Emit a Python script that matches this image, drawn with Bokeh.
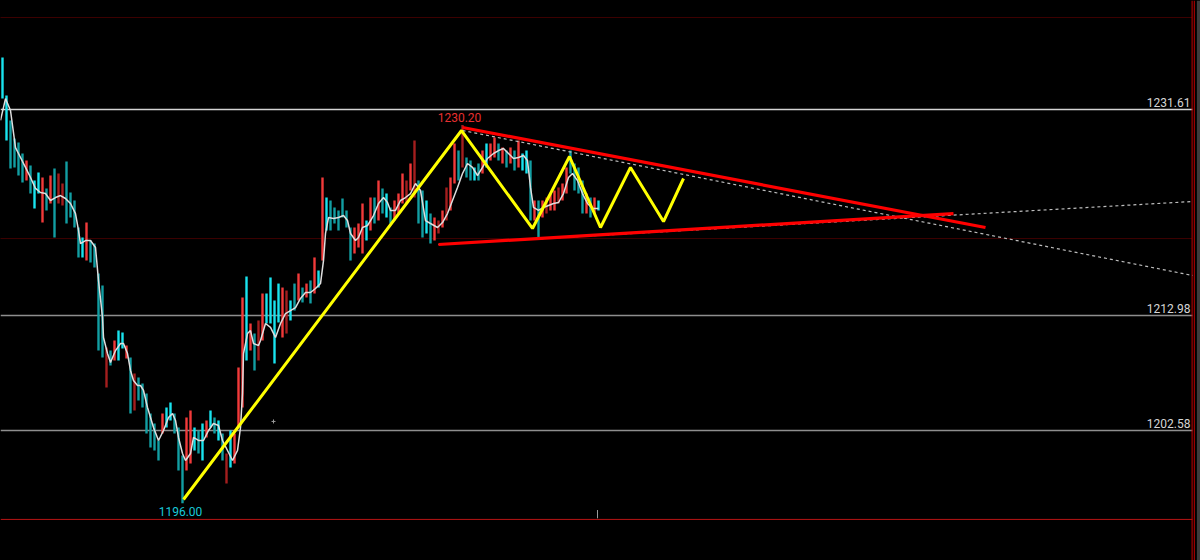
from bokeh.plotting import figure
from bokeh.models import Range1d, ColumnDataSource
from bokeh.embed import file_html
from bokeh.resources import INLINE
from bokeh.core.properties import value

# ---------------- data ----------------
highs = [
    1236.31, 1232.88, 1230.62, 1228.99, 1228.63, 1227.63, 1227.00, 1226.55, 1225.19, 1225.91,
    1225.46, 1224.47, 1225.64, 1226.27, 1225.82, 1224.92, 1226.91, 1224.10, 1223.38, 1220.94,
    1220.03, 1221.39, 1219.76, 1219.49, 1216.78, 1215.69, 1210.09, 1209.81, 1210.72, 1211.62,
    1211.44, 1210.27, 1209.18, 1207.74, 1207.37, 1206.83, 1205.93, 1204.12, 1203.21, 1201.68,
    1204.12, 1204.66, 1205.11, 1204.12, 1202.85, 1200.32, 1203.76, 1204.39, 1202.85, 1202.58,
    1203.21, 1203.49, 1204.39, 1203.76, 1203.49, 1202.31, 1200.50, 1202.58, 1202.31, 1208.28,
    1214.61, 1216.51, 1212.26, 1211.35, 1212.53, 1214.97, 1214.97, 1216.42, 1214.34, 1215.87,
    1215.51, 1215.24, 1214.34, 1215.87, 1216.78, 1215.51, 1215.87, 1216.15, 1218.23, 1217.05,
    1225.46, 1223.65, 1223.38, 1222.75, 1222.48, 1223.56, 1222.48, 1220.94, 1220.94, 1221.30,
    1223.11, 1221.57, 1223.65, 1223.65, 1225.19, 1224.47, 1224.01, 1222.75, 1223.38, 1224.01,
    1225.82, 1225.19, 1226.73, 1228.81, 1225.19, 1224.28, 1223.38, 1222.20, 1221.84, 1221.57,
    1222.48, 1224.56, 1225.46, 1228.54, 1227.90, 1230.20, 1227.27, 1227.00, 1226.37, 1226.73,
    1227.90, 1228.54, 1228.54, 1229.08, 1228.54, 1228.17, 1227.90, 1228.17, 1227.90, 1228.81,
    1227.63, 1227.90, 1227.00, 1223.38, 1223.38, 1223.38, 1223.65, 1224.01, 1224.28, 1224.56,
    1224.92, 1226.37, 1227.90, 1226.73, 1226.37, 1225.19, 1224.01, 1223.65, 1223.65, 1223.38,
]
lows = [
    1232.60, 1228.81, 1226.27, 1226.37, 1225.64, 1225.01, 1225.19, 1224.01, 1222.66, 1224.01,
    1221.39, 1222.48, 1223.11, 1220.03, 1223.11, 1222.93, 1221.30, 1221.84, 1220.94, 1218.23,
    1218.23, 1217.95, 1217.77, 1217.32, 1209.81, 1209.18, 1206.47, 1208.46, 1208.91, 1208.91,
    1210.00, 1209.09, 1204.12, 1204.39, 1205.29, 1204.66, 1202.31, 1201.04, 1200.77, 1199.87,
    1202.31, 1202.85, 1203.49, 1202.31, 1198.96, 1196.00, 1198.96, 1199.60, 1200.77, 1200.50,
    1199.87, 1201.95, 1202.85, 1202.31, 1201.68, 1199.87, 1197.79, 1199.24, 1199.60, 1202.85,
    1204.66, 1208.91, 1209.81, 1208.01, 1208.91, 1210.72, 1212.26, 1212.26, 1208.64, 1212.35,
    1210.99, 1211.35, 1212.53, 1213.43, 1214.34, 1214.16, 1214.61, 1214.07, 1214.97, 1215.51,
    1217.95, 1220.67, 1220.67, 1221.30, 1220.67, 1221.84, 1220.94, 1217.95, 1218.59, 1219.13,
    1218.59, 1219.76, 1220.67, 1221.30, 1221.57, 1222.20, 1221.84, 1221.30, 1221.57, 1222.20,
    1223.11, 1223.11, 1224.28, 1223.65, 1221.30, 1220.03, 1220.40, 1219.49, 1219.76, 1220.40,
    1220.94, 1221.57, 1222.48, 1224.92, 1225.19, 1226.37, 1225.46, 1225.19, 1225.19, 1225.19,
    1225.82, 1226.37, 1227.00, 1227.27, 1227.00, 1226.73, 1226.37, 1226.73, 1226.09, 1226.37,
    1226.09, 1225.82, 1221.57, 1221.57, 1220.03, 1221.84, 1222.20, 1222.48, 1222.48, 1223.11,
    1223.38, 1224.01, 1225.82, 1224.28, 1224.01, 1222.20, 1222.20, 1221.84, 1222.20, 1222.48,
]
# bar colour kind: C bright up, T dark up, R bright down, D dark down
bar_kinds = list(
    "CCTTTTRTCC" "RTRTDDTTTT" "CRTTTTDTRC" "CRTDTTTTTT" "RCCTTTRRCT"
    "CRCTCTDCRR" "RCRTDRCCCC" "RDCTRTRTRC" "RCTTTTTTRR" "RCRTRTCTRR"
    "RDRDTTCTRD" "RDRRTDTTCT" "RCRRTRTRTR" "CCTRTRDRRD" "RRTTTTRTRC"
)

ma_x = [-0.5, 0.75, 2.0, 3.25, 4.5, 5.75, 7.0, 8.25, 9.5, 10.75, 12.0, 13.25, 14.5, 15.75, 17.0,
        18.25, 19.0, 19.5, 20.75, 22.0, 23.25, 24.0, 25.0, 25.25, 26.25, 27.0, 28.25, 29.5, 30.25,
        31.25, 32.0, 32.75, 33.75, 34.5, 35.25, 36.25, 37.75, 39.0, 40.25, 41.5, 42.5, 43.25, 44.0,
        45.0, 45.75, 47.0, 47.75, 49.0, 50.25, 51.5, 52.75, 54.0, 55.0, 56.25, 57.5, 58.75, 59.5,
        60.0, 60.25, 61.25, 62.0, 62.75, 64.0, 64.5, 65.75, 67.0, 68.25, 69.5, 70.75, 72.0, 73.25,
        74.5, 75.75, 77.0, 78.25, 79.5, 80.25, 80.75, 81.5, 82.75, 84.0, 85.25, 86.25, 87.0, 88.25,
        89.0, 90.0, 91.25, 92.0, 92.75, 94.0, 95.25, 96.25, 97.0, 98.25, 99.5, 100.75, 102.0,
        103.25, 104.5, 105.75, 107.0, 108.75, 110.0, 111.25, 112.5, 113.75, 115.0, 116.25, 117.5,
        118.75, 120.0, 121.25, 122.75, 124.0, 125.25, 126.5, 127.75, 129.0, 130.25, 131.25, 132.0,
        132.75, 134.0, 135.25, 136.5, 137.75, 139.0, 140.25, 141.5, 142.5, 143.75, 145.0, 146.25,
        147.5, 149.0]
ma_price = [1230.62, 1232.60, 1231.52, 1228.17, 1227.27, 1226.37, 1225.46, 1224.47, 1224.10, 1224.01,
            1223.38, 1223.65, 1223.83, 1223.56, 1223.11, 1222.20, 1220.67, 1219.49, 1219.76, 1219.76,
            1219.13, 1216.15, 1212.80, 1210.99, 1209.54, 1208.73, 1209.81, 1210.45, 1210.45, 1209.54,
            1208.01, 1207.10, 1206.65, 1206.65, 1206.20, 1204.66, 1202.85, 1201.68, 1202.58, 1203.76,
            1204.12, 1203.49, 1201.95, 1200.50, 1199.87, 1200.50, 1201.95, 1201.68, 1201.68, 1202.58,
            1203.21, 1203.03, 1201.68, 1200.77, 1199.87, 1200.77, 1202.85, 1205.93, 1209.54, 1211.35,
            1211.62, 1210.45, 1210.27, 1210.72, 1212.26, 1211.90, 1210.99, 1212.26, 1213.16, 1213.43,
            1213.70, 1214.52, 1215.06, 1215.06, 1215.42, 1215.87, 1217.95, 1220.40, 1221.84, 1221.75,
            1221.84, 1222.02, 1221.57, 1220.40, 1219.76, 1220.03, 1220.94, 1221.12, 1221.57, 1222.02,
            1223.11, 1223.65, 1223.20, 1222.48, 1222.48, 1223.38, 1223.65, 1224.01, 1224.92, 1224.28,
            1221.57, 1221.30, 1220.94, 1221.39, 1222.20, 1223.38, 1224.56, 1225.82, 1226.73, 1226.37,
            1225.64, 1226.37, 1227.18, 1227.63, 1227.90, 1228.08, 1227.63, 1227.18, 1227.27, 1227.45,
            1227.00, 1224.56, 1222.75, 1222.48, 1222.75, 1222.93, 1223.11, 1223.20, 1224.01, 1225.46,
            1225.82, 1225.19, 1224.01, 1223.11, 1222.66, 1222.66]

zigzag_x = [45.25, 114.75, 132.5, 141.75, 149.5, 157.0, 165.25, 170.25]
zigzag_price = [1196.34, 1229.71, 1220.85, 1227.36, 1220.94, 1226.37, 1221.48, 1225.37]

upper_red_x = [115.0, 245.75]
upper_red_price = [1229.98, 1220.94]
lower_red_x = [109.0, 237.75]
lower_red_price = [1219.40, 1222.20]
dash_down_x = [115.0, 297.5]
dash_down_price = [1229.71, 1216.60]
dash_up_x = [109.0, 297.5]
dash_up_price = [1219.40, 1223.29]

levels = [1231.61, 1212.98, 1202.58]
level_labels = ["1231.61", "1212.98", "1202.58"]
dotted_levels = [1239.93, 1219.94]
bottom_level = 1194.54
high_label = "1230.20"
high_price = 1230.20
high_x = 114.25
low_label = "1196.00"
low_price = 1196.00
low_x = 44.5

# ---------------- figure ----------------
W, H = 1200, 560
Y0, Y1 = 1190.825, 1241.467
X0, X1 = -0.5, 299.5
PX = (Y1 - Y0) / H  # price units per pixel

p = figure(width=W, height=H, output_backend="svg", toolbar_location=None,
           x_range=Range1d(X0, X1), y_range=Range1d(Y0, Y1),
           x_axis_location=None, y_axis_location=None,
           background_fill_color="black", border_fill_color="black",
           min_border=0, outline_line_color=None)
p.grid.grid_line_color = None

XR = 297.5  # right edge of the chart area

# horizontal dotted dark-red lines
for lv in dotted_levels:
    p.line([X0, XR], [lv, lv], line_color="#7a0000", line_width=1, line_dash="1 1")

# price level lines
level_colors = ["#d4d4d4", "#8e8e8e", "#8e8e8e"]
for lv, c in zip(levels, level_colors):
    p.line([X0, XR], [lv, lv], line_color=c, line_width=1.3)

# bottom red line and right red borders
p.line([X0, XR], [bottom_level, bottom_level], line_color="#b81414", line_width=1)
for xv in (297.4, 297.95):
    p.line([xv, xv], [Y0, Y1], line_color="#c00000", line_width=1)
p.quad(left=[298.6], right=[X1], bottom=[Y0], top=[Y1], fill_color="#3c3c3c", line_color=None)

# bars
kind_color = {"C": "#19e3ee", "T": "#129ea3", "R": "#f23a3a", "D": "#a41e1e"}
idx = list(range(len(highs)))
src = ColumnDataSource(dict(x=idx, hi=highs, lo=lows, c=[kind_color[k] for k in bar_kinds]))
p.segment(x0="x", y0="lo", x1="x", y1="hi", line_color="c", line_width=2.4, source=src)

# moving average
p.line(ma_x, ma_price, line_color="#dedede", line_width=1.5)

# dashed extension lines
p.line(dash_down_x, dash_down_price, line_color="#bdbdbd", line_width=1.2, line_dash="3 3")
p.line(dash_up_x, dash_up_price, line_color="#bdbdbd", line_width=1.2, line_dash="3 3")

# red triangle lines
p.line(upper_red_x, upper_red_price, line_color="#ff0000", line_width=3.2)
p.line(lower_red_x, lower_red_price, line_color="#ff0000", line_width=3.2)

# yellow zigzag
p.line(zigzag_x, zigzag_price, line_color="#ffff00", line_width=3)

# small markers
p.line([148.75, 148.75], [bottom_level + 0.1, bottom_level + 0.85], line_color="#9a9a9a", line_width=1)
p.scatter([67.75], [1203.40], marker="cross", size=4, line_color="#9a9a9a", line_width=1)

# texts
font = value("Roboto")
p.text(x=[297.0] * 3, y=[lv + 7 * PX for lv in levels], text=level_labels,
       text_font=font, text_font_size="12px", text_color="#d6d6d6",
       text_align="right", text_baseline="middle")
p.text(x=[high_x], y=[high_price + 7.6 * PX], text=[high_label],
       text_font=font, text_font_size="12px", text_color="#e83030",
       text_align="center", text_baseline="middle")
p.text(x=[low_x], y=[low_price - 8.2 * PX], text=[low_label],
       text_font=font, text_font_size="12px", text_color="#19c8d8",
       text_align="center", text_baseline="middle")

html = file_html(p, INLINE)
html = html.replace("<head>", "<head><style>html,body{background:#000000;}</style>", 1)
open("out.html", "w").write(html)
